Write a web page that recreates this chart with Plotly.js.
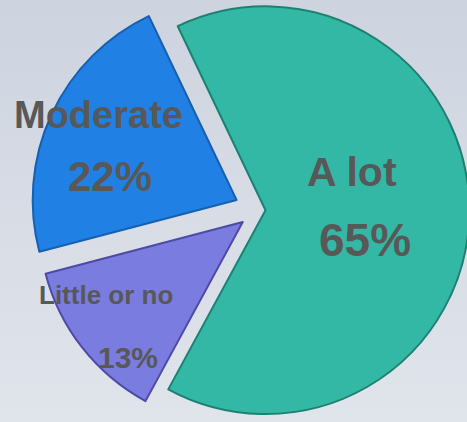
<!DOCTYPE html>
<html>
<head>
<meta charset="utf-8">
<script src="https://cdn.plot.ly/plotly-3.0.1.min.js"></script>
<style>
  html, body { margin: 0; padding: 0; overflow: hidden; }
  body { position: relative; width: 467px; height: 422px; background: linear-gradient(to bottom, #cdd3df 0%, #d8dde6 55%, #e0e4eb 100%); }
  #chart { position: absolute; left: 0; top: -18px; width: 490px; height: 456px; }
</style>
</head>
<body>
<div id="chart"></div>
<script>
// Data
const categories = ['A lot', 'Little or no', 'Moderate'];
const values = [65, 13, 22];
const percentLabels = ['65%', '13%', '22%'];

// Styling (not data)
const sliceColors = ['#33b8a6', '#7b7cdf', '#2180e4'];
const edgeColors = ['#1d8072', '#4c4aa6', '#1560b0'];
const slicePull = [0.037, 0.095, 0.116];
const labelPos = [
  { name: [352, 172, 41], pct: [365, 240, 46] },
  { name: [106, 295, 26], pct: [128, 357, 30] },
  { name: [98, 115, 38], pct: [110, 177, 42] }
];

const W = 490, H = 456, TOP = -18;
const px = x => x / W;
const py = y => 1 - (y - TOP) / H;
const labelFont = size => ({ family: 'Liberation Sans, Arial, sans-serif', size: size, color: '#585858', weight: 'bold' });

const annotations = [];
categories.forEach((c, i) => {
  const p = labelPos[i];
  annotations.push({
    text: c, xref: 'paper', yref: 'paper',
    x: px(p.name[0]), y: py(p.name[1]),
    xanchor: 'center', yanchor: 'middle', showarrow: false,
    font: labelFont(p.name[2])
  });
  annotations.push({
    text: percentLabels[i], xref: 'paper', yref: 'paper',
    x: px(p.pct[0]), y: py(p.pct[1]),
    xanchor: 'center', yanchor: 'middle', showarrow: false,
    font: labelFont(p.pct[2])
  });
});

const trace = {
  type: 'pie',
  labels: categories,
  values: values,
  sort: false,
  direction: 'clockwise',
  rotation: -25.5,
  pull: slicePull,
  textinfo: 'none',
  hoverinfo: 'label+percent',
  marker: { colors: sliceColors, line: { color: edgeColors, width: 2 } },
  domain: { x: [0.0622, 0.9908], y: [0, 1] },
  showlegend: false
};

Plotly.newPlot('chart', [trace], {
  width: W, height: H,
  margin: { l: 0, r: 0, t: 0, b: 0 },
  paper_bgcolor: 'rgba(0,0,0,0)',
  plot_bgcolor: 'rgba(0,0,0,0)',
  showlegend: false,
  annotations: annotations
}, { displayModeBar: false, staticPlot: true });
</script>
</body>
</html>
